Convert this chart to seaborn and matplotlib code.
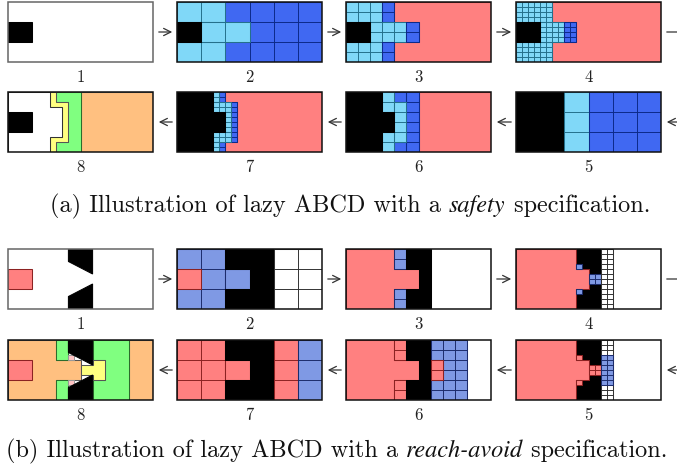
import numpy as np
import matplotlib
matplotlib.use("Agg")
import matplotlib.pyplot as plt
from matplotlib.patches import Polygon, Rectangle, FancyArrowPatch
import seaborn as sns

sns.set_theme(style="white")
plt.rcParams['font.family'] = ['cmr10', 'DejaVu Serif']
plt.rcParams['axes.unicode_minus'] = False

# ---------------- colours ----------------
FILL = {'k': '#000000', 'w': '#ffffff', 'lb': '#80d8f8', 'db': '#4068f2',
        'r': '#ff8080', 'b': '#7f99e4', 'o': '#ffc080', 'g': '#80ff80',
        'y': '#ffff80', 'p': '#ffc4c4'}
EDGE = {'k': '#000000', 'w': '#333333', 'lb': '#24708c', 'db': '#0c2a8a',
        'r': '#8c2222', 'b': '#1c2c6c', 'o': '#555555', 'g': '#2c6c2c',
        'y': '#555555', 'p': '#999999'}

# ---------------- shapes (grid units: x 0..6, y 0..3) ----------------
CSHAPE = [(0, 3), (1.5, 3), (1.5, 2), (2, 2), (2, 1), (1.5, 1), (1.5, 0), (0, 0)]
NOTCH_3 = [(0, 3), (2, 3), (2, 2), (3, 2), (3, 1), (2, 1), (2, 0), (0, 0)]
NOTCH_25 = [(0, 3), (2.5, 3), (2.5, 2), (3, 2), (3, 1), (2.5, 1), (2.5, 0), (0, 0)]
BLACK_MID = [(2.5, 3), (3.5, 3), (3.5, 0), (2.5, 0), (2.5, 1), (3, 1), (3, 2), (2.5, 2)]
BLACK_CELLS = [(2, 3), (4, 3), (4, 0), (2, 0), (2, 1), (3, 1), (3, 2), (2, 2)]
WEDGE_TOP = [(2.5, 3), (3.5, 3), (3.5, 1.75), (2.5, 2.375)]
WEDGE_BOT = [(2.5, 0), (3.5, 0), (3.5, 1.25), (2.5, 0.625)]
RIGHT_C = [(3.5, 3), (5, 3), (5, 0), (3.5, 0), (3.5, 1), (4, 1), (4, 2), (3.5, 2)]

# each region: (colour, grid step, rect (x0,x1,y0,y1) or polygon)
A1 = [('k', 0, (0, 1, 1, 2))]
A2 = [('db', 1, (0, 6, 0, 3)), ('lb', 1, (0, 2, 2, 3)), ('lb', 1, (0, 2, 0, 1)),
      ('lb', 1, (1, 3, 1, 2)), ('k', 0, (0, 1, 1, 2))]
A3 = [('r', 0, [(2, 3), (6, 3), (6, 0), (2, 0), (2, 1), (3, 1), (3, 2), (2, 2)]),
      ('lb', .5, (0, 1.5, 2, 3)), ('db', .5, (1.5, 2, 2, 3)),
      ('lb', .5, (1, 2.5, 1, 2)), ('db', .5, (2.5, 3, 1, 2)),
      ('lb', .5, (0, 1.5, 0, 1)), ('db', .5, (1.5, 2, 0, 1)), ('k', 0, (0, 1, 1, 2))]
A4 = [('r', 0, [(1.5, 3), (6, 3), (6, 0), (1.5, 0), (1.5, 1), (2.5, 1), (2.5, 2), (1.5, 2)]),
      ('lb', .25, (0, 1.5, 2, 3)), ('lb', .25, (0, 1.5, 0, 1)), ('lb', .25, (1, 2, 1, 2)),
      ('db', .25, (2, 2.5, 1, 2)), ('k', 0, (0, 1, 1, 2))]
A5 = [('k', 0, (0, 2, 0, 3)), ('lb', 1, (2, 3, 0, 3)), ('db', 1, (3, 6, 0, 3))]
A6 = [('r', 0, (3, 6, 0, 3)), ('db', .5, (2.5, 3, 0, 3)), ('db', .5, (2, 2.5, 2.5, 3)),
      ('db', .5, (2, 2.5, 0, 0.5)), ('lb', .5, (1.5, 2, 2, 3)), ('lb', .5, (2, 2.5, 0.5, 2.5)),
      ('lb', .5, (1.5, 2, 0, 1)), ('k', 0, CSHAPE)]
A7 = [('r', 0, [(2, 3), (6, 3), (6, 0), (2, 0), (2, 0.5), (2.5, 0.5), (2.5, 2.5), (2, 2.5)]),
      ('db', .25, (1.75, 2, 2.5, 3)), ('db', .25, (2.25, 2.5, 0.5, 2.5)), ('db', .25, (1.75, 2, 0, 0.5)),
      ('lb', .25, (1.5, 1.75, 2.5, 3)), ('lb', .25, (1.5, 2.25, 2, 2.5)), ('lb', .25, (2, 2.25, 1, 2)),
      ('lb', .25, (1.5, 2.25, 0.5, 1)), ('lb', .25, (1.5, 1.75, 0, 0.5)), ('k', 0, CSHAPE)]
A8 = [('o', 0, (3, 6, 0, 3)),
      ('g', 0, [(2, 3), (3, 3), (3, 0), (2, 0), (2, 0.5), (2.5, 0.5), (2.5, 2.5), (2, 2.5)]),
      ('y', 0, [(1.75, 3), (2, 3), (2, 2.5), (2.5, 2.5), (2.5, 0.5), (2, 0.5), (2, 0), (1.75, 0),
                (1.75, 0.75), (2.25, 0.75), (2.25, 2.25), (1.75, 2.25)]),
      ('w', 0, [(0, 3), (1.75, 3), (1.75, 2.25), (2.25, 2.25), (2.25, 0.75), (1.75, 0.75), (1.75, 0), (0, 0)]),
      ('k', 0, (0, 1, 1, 2))]

B1 = [('r', 0, (0, 1, 1, 2)), ('k', 0, WEDGE_TOP), ('k', 0, WEDGE_BOT)]
B2 = [('b', 1, (0, 2, 0, 3)), ('r', 0, (0, 1, 1, 2)), ('b', 1, (2, 3, 1, 2)),
      ('k', 0, BLACK_CELLS), ('w', 1, (4, 6, 0, 3))]
B3 = [('r', 0, NOTCH_3), ('b', .5, (2, 2.5, 2, 3)), ('b', .5, (2, 2.5, 0, 1)), ('k', 0, BLACK_MID)]
B4 = [('k', 0, (2.5, 3.5, 0, 3)), ('r', 0, NOTCH_25), ('b', .25, (2.5, 2.75, 2, 2.25)),
      ('b', .25, (2.5, 2.75, 0.75, 1)), ('b', .25, (3, 3.5, 1.25, 1.75)), ('w', .25, (3.5, 4, 0, 3))]
B5 = [('k', 0, (2.5, 3.5, 0, 3)), ('r', 0, NOTCH_25), ('r', .25, (2.5, 2.75, 2, 2.25)),
      ('r', .25, (2.5, 2.75, 0.75, 1)), ('r', .25, (3, 3.5, 1.25, 1.75)), ('w', .25, (3.5, 4, 0, 3)),
      ('b', .25, (3.5, 4, 0.75, 2.25))]
B6 = [('r', 0, NOTCH_3), ('r', .5, (2, 2.5, 2, 3)), ('r', .5, (2, 2.5, 0, 1)), ('k', 0, BLACK_MID),
      ('b', .5, RIGHT_C), ('r', .5, (3.5, 4, 1, 2))]
B7 = [('r', 1, (0, 2, 0, 3)), ('r', 1, (2, 3, 1, 2)), ('k', 0, BLACK_CELLS),
      ('r', 1, (4, 5, 0, 3)), ('b', 1, (5, 6, 0, 3))]
B8 = [('o', 0, NOTCH_3), ('o', 0, (5, 6, 0, 3)), ('r', 0, (0, 1, 1, 2)),
      ('g', 0, (2, 2.5, 2, 3)), ('g', 0, (2, 2.5, 0, 1)), ('g', 0, RIGHT_C),
      ('y', 0, [(3, 1.75), (3.5, 1.75), (3.5, 2), (4, 2), (4, 1), (3.5, 1), (3.5, 1.25), (3, 1.25)]),
      ('p', 0, (2.5, 2.75, 2, 2.25)), ('p', 0, (2.5, 2.75, 0.75, 1)),
      ('k', 0, WEDGE_TOP), ('k', 0, WEDGE_BOT)]

# layout (pixels)
ROW_TOPS = [2, 92, 249, 340]
COL_X = [8, 177, 346, 516]
PW, PH = 145, 60
ROWS = [[('1', A1), ('2', A2), ('3', A3), ('4', A4)],
        [('8', A8), ('7', A7), ('6', A6), ('5', A5)],
        [('1', B1), ('2', B2), ('3', B3), ('4', B4)],
        [('8', B8), ('7', B7), ('6', B6), ('5', B5)]]
LABEL_Y = [77, 167, 324, 415]
CAPTIONS = [("(a) Illustration of lazy ABCD with a ", "safety", " specification."),
            ("(b) Illustration of lazy ABCD with a ", "reach-avoid", " specification.")]
CAPTION_Y = [206, 451]
CAPTION_ANCHOR = [('center', 350), ('left', 6)]

W, H = 677, 468
fig = plt.figure(figsize=(W / 100, H / 100), dpi=100)


def verts_of(shape):
    if isinstance(shape, tuple):
        x0, x1, y0, y1 = shape
        return [(x0, y0), (x1, y0), (x1, y1), (x0, y1)]
    return shape


def draw_panel(ax, regions, frame_col):
    ax.set_xlim(0, 6)
    ax.set_ylim(0, 3)
    ax.set_axis_off()
    for i, (c, step, shape) in enumerate(regions):
        poly = Polygon(verts_of(shape), closed=True, facecolor=FILL[c],
                       edgecolor=EDGE[c], lw=0.75, zorder=2 + i * 2, joinstyle='miter')
        ax.add_patch(poly)
        if step:
            xs = np.arange(0, 6 + 1e-9, step)
            ys = np.arange(0, 3 + 1e-9, step)
            lc1 = ax.vlines(xs, 0, 3, colors=EDGE[c], lw=0.7, zorder=3 + i * 2)
            lc2 = ax.hlines(ys, 0, 6, colors=EDGE[c], lw=0.7, zorder=3 + i * 2)
            lc1.set_clip_path(poly)
            lc2.set_clip_path(poly)
    ax.add_patch(Rectangle((0, 0), 6, 3, fill=False, edgecolor=frame_col, lw=1.1,
                           zorder=100, clip_on=False))


for r, row in enumerate(ROWS):
    top = ROW_TOPS[r]
    for c, (lab, regions) in enumerate(row):
        x0 = COL_X[c]
        ax = fig.add_axes([x0 / W, 1 - (top + PH) / H, PW / W, PH / H])
        frame = '#666666' if (lab == '1') else '#111111'
        draw_panel(ax, regions, frame)
        fig.text((x0 + PW / 2) / W, 1 - LABEL_Y[r] / H, lab, ha='center', va='center',
                 fontsize=12, color='#222222')
    # arrows
    ymid = 1 - (top + PH / 2) / H
    forward = (r % 2 == 0)
    for c in range(4):
        gx0 = COL_X[c] + PW + 3
        gx1 = (COL_X[c + 1] - 2) if c < 3 else W + 20
        if forward:
            start, end = gx0, gx1
        else:
            start, end = gx1, gx0
        fig.add_artist(FancyArrowPatch(
            (start / W, ymid), (end / W, ymid), transform=fig.transFigure,
            arrowstyle='->', mutation_scale=13, color='#333333', lw=0.9))

# captions: roman / italic / roman pieces placed side by side
renderer = fig.canvas.get_renderer()
CAP_FS = 17.5
for (p1, p2, p3), cy, (mode, ax_x) in zip(CAPTIONS, CAPTION_Y, CAPTION_ANCHOR):
    yf = 1 - cy / H
    styles = [dict(family=['cmr10']), dict(family=['STIXGeneral'], style='italic'),
              dict(family=['cmr10'])]
    texts = []
    for s, st in zip((p1, p2, p3), styles):
        t = fig.text(0, yf, s, ha='left', va='center', fontsize=CAP_FS, color='#111111', **st)
        texts.append(t)
    widths = [t.get_window_extent(renderer).width for t in texts]
    total = sum(widths)
    x = ax_x - total / 2 if mode == 'center' else ax_x
    for t, w in zip(texts, widths):
        t.set_x(x / W)
        x += w

fig.savefig('out.png', dpi=100)
